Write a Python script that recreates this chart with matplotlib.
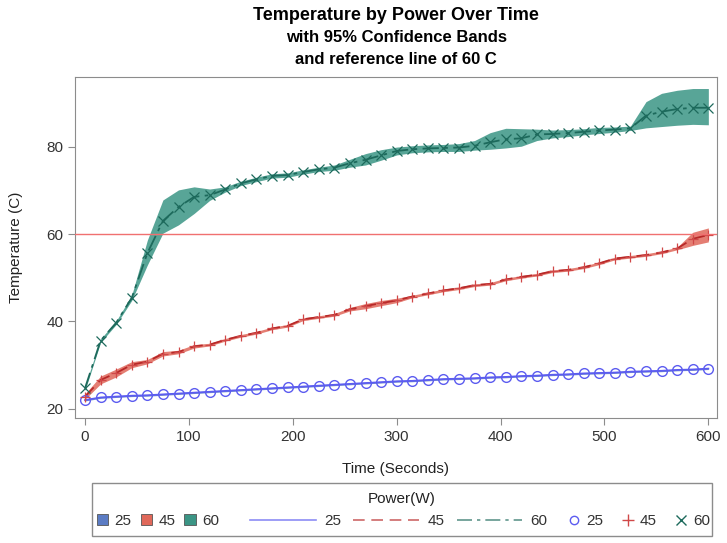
import numpy as np
import matplotlib
matplotlib.use('Agg')
from matplotlib import pyplot as plt
from matplotlib.patches import Patch, Rectangle
from matplotlib.lines import Line2D

# 数据（每 15 秒一个点）
time_s = list(range(0, 601, 15))
powers = ['25', '45', '60']

temp_25 = [22.0, 22.6, 22.8, 23.0, 23.1, 23.3, 23.5, 23.7, 23.9, 24.1,
           24.3, 24.5, 24.7, 24.9, 25.1, 25.3, 25.5, 25.7, 25.9, 26.1,
           26.3, 26.4, 26.6, 26.8, 26.9, 27.0, 27.2, 27.3, 27.5, 27.6,
           27.8, 27.9, 28.1, 28.2, 28.3, 28.5, 28.6, 28.7, 28.9, 29.0, 29.2]
temp_45 = [22.8, 26.6, 28.2, 30.1, 30.8, 32.6, 33.0, 34.3, 34.7, 35.8,
           36.7, 37.4, 38.4, 39.0, 40.5, 41.0, 41.5, 42.8, 43.5, 44.2,
           44.8, 45.7, 46.4, 47.1, 47.6, 48.3, 48.6, 49.6, 50.2, 50.7,
           51.5, 51.8, 52.4, 53.3, 54.4, 54.8, 55.2, 55.8, 56.7, 58.9, 59.8]
temp_60 = [24.7, 35.6, 39.7, 45.4, 55.6, 63.0, 66.2, 68.5, 68.9, 70.2,
           71.6, 72.5, 73.3, 73.5, 74.2, 74.8, 75.2, 76.2, 77.0, 78.0,
           79.0, 79.4, 79.6, 79.7, 79.8, 80.2, 81.0, 81.7, 81.9, 82.8,
           82.9, 83.1, 83.4, 83.7, 83.9, 84.2, 87.1, 88.0, 88.6, 88.9, 88.9]

# 95% 置信带半宽
hw_25 = [0.2] * 41
hw_45 = [0.6, 0.9, 0.9, 0.7, 0.5, 0.5, 0.4, 0.4, 0.3, 0.3,
         0.3, 0.3, 0.3, 0.3, 0.3, 0.3, 0.3, 0.4, 0.6, 0.6,
         0.5, 0.3, 0.3, 0.3, 0.3, 0.3, 0.3, 0.3, 0.3, 0.3,
         0.3, 0.3, 0.3, 0.3, 0.3, 0.3, 0.3, 0.3, 0.3, 1.5, 1.6]
up_60 = [0.5, 0.4, 0.4, 0.6, 3.0, 4.8, 3.9, 2.3, 1.4, 0.6,
         0.5, 0.5, 0.5, 0.5, 0.5, 0.5, 0.6, 0.9, 1.4, 1.3,
         0.9, 0.8, 0.8, 0.8, 0.9, 1.2, 2.2, 2.5, 2.2, 1.2,
         0.9, 0.8, 0.7, 0.7, 0.6, 0.5, 3.2, 4.2, 4.3, 4.4, 4.4]
dn_60 = [0.5, 0.4, 0.4, 0.6, 2.7, 2.8, 4.1, 3.8, 1.2, 0.6,
         0.5, 0.5, 0.5, 0.5, 0.5, 0.5, 0.6, 0.9, 1.2, 1.1,
         0.9, 0.8, 0.8, 0.8, 0.9, 1.0, 1.6, 2.0, 1.8, 1.4,
         0.9, 0.8, 0.7, 0.7, 0.6, 0.5, 2.8, 3.4, 3.7, 3.8, 3.9]

ref_temp = 60

fill_colors = ['#5b7cc4', '#e0685a', '#3b9585']
line_colors = ['#5c5cf0', '#b82828', '#1d6a5c']
marker_colors = ['#5c5cf0', '#d04848', '#1d6a5c']
line_styles = ['-', (0, (7, 4)), (0, (9, 3, 2, 3))]
markers = ['o', '+', 'x']

plt.rcParams['font.family'] = ['Liberation Sans', 'DejaVu Sans']

fig = plt.figure(figsize=(7.27, 5.43), dpi=100)
ax = fig.add_axes([0.1032, 0.2302, 0.883, 0.6285])

t = np.array(time_s)
series = [np.array(temp_25), np.array(temp_45), np.array(temp_60)]
lows = [series[0] - np.array(hw_25), series[1] - np.array(hw_45), series[2] - np.array(dn_60)]
highs = [series[0] + np.array(hw_25), series[1] + np.array(hw_45), series[2] + np.array(up_60)]

for i in range(3):
    ax.fill_between(t, lows[i], highs[i], color=fill_colors[i], alpha=0.85,
                    linewidth=0, zorder=1)
for i in range(3):
    ax.plot(t, series[i], color=line_colors[i], linestyle=line_styles[i],
            linewidth=1.3, zorder=2)
    if markers[i] == 'o':
        ax.plot(t, series[i], linestyle='none', marker='o', markersize=7,
                markerfacecolor='none', markeredgecolor=marker_colors[i],
                markeredgewidth=1.0, zorder=3)
    else:
        ax.plot(t, series[i], linestyle='none', marker=markers[i], markersize=7.5,
                color=marker_colors[i], markeredgewidth=0.9, zorder=3)

ax.axhline(ref_temp, color='#f07070', linewidth=1.0, zorder=4)

ax.set_xlim(-9.6, 608.3)
ax.set_ylim(17.9, 96.0)
ax.set_xticks(range(0, 601, 100))
ax.set_yticks([20, 40, 60, 80])
ax.tick_params(direction='out', length=5, color='#8c8c8c', labelsize=11,
               labelcolor='#333333')
for s in ax.spines.values():
    s.set_color('#8c8c8c')
ax.set_xlabel('Time (Seconds)', fontsize=11, color='#222222', labelpad=13)
ax.set_ylabel('Temperature (C)', fontsize=11, color='#222222', labelpad=17)

# 标题
fig.text(0.545, 1 - 16 / 543, 'Temperature by Power Over Time', ha='center',
         va='center', fontsize=13, fontweight='bold')
fig.text(0.545, 1 - 38 / 543, 'with 95% Confidence Bands', ha='center',
         va='center', fontsize=12, fontweight='bold')
fig.text(0.545, 1 - 59 / 543, 'and reference line of 60 C', ha='center',
         va='center', fontsize=12, fontweight='bold')

# 图例
fig.add_artist(Rectangle((92 / 727, 7 / 543), 620 / 727, 53 / 543,
                         transform=fig.transFigure, facecolor='none',
                         edgecolor='#8c8c8c', linewidth=1.0))
fig.text(402 / 727, 1 - 499 / 543, 'Power(W)', ha='center', va='center',
         fontsize=11, color='#222222')

leg_kw = dict(frameon=False, fontsize=11, borderpad=0, borderaxespad=0,
              ncol=3, loc='center left', labelcolor='#333333')
row_y = 1 - 521 / 543

h1 = [Patch(facecolor=c, edgecolor='#555555', linewidth=0.6) for c in fill_colors]
fig.legend(h1, powers, bbox_to_anchor=(97 / 727, row_y), handlelength=0.75,
           handleheight=0.75, handletextpad=0.4, columnspacing=0.6, **leg_kw)

h2 = [Line2D([], [], color=line_colors[i], linestyle=line_styles[i], linewidth=1.2,
             alpha=0.7) for i in range(3)]
fig.legend(h2, powers, bbox_to_anchor=(250 / 727, row_y), handlelength=4.3,
           handletextpad=0.55, columnspacing=0.8, **leg_kw)

h3 = [Line2D([], [], linestyle='none', marker='o', markersize=6, markerfacecolor='none',
             markeredgecolor=marker_colors[0]),
      Line2D([], [], linestyle='none', marker='+', markersize=8, color=marker_colors[1]),
      Line2D([], [], linestyle='none', marker='x', markersize=7, color=marker_colors[2])]
fig.legend(h3, powers, bbox_to_anchor=(568 / 727, row_y), handlelength=0.8,
           handletextpad=0.4, columnspacing=1.2, **leg_kw)

fig.savefig('out.png', dpi=100)
